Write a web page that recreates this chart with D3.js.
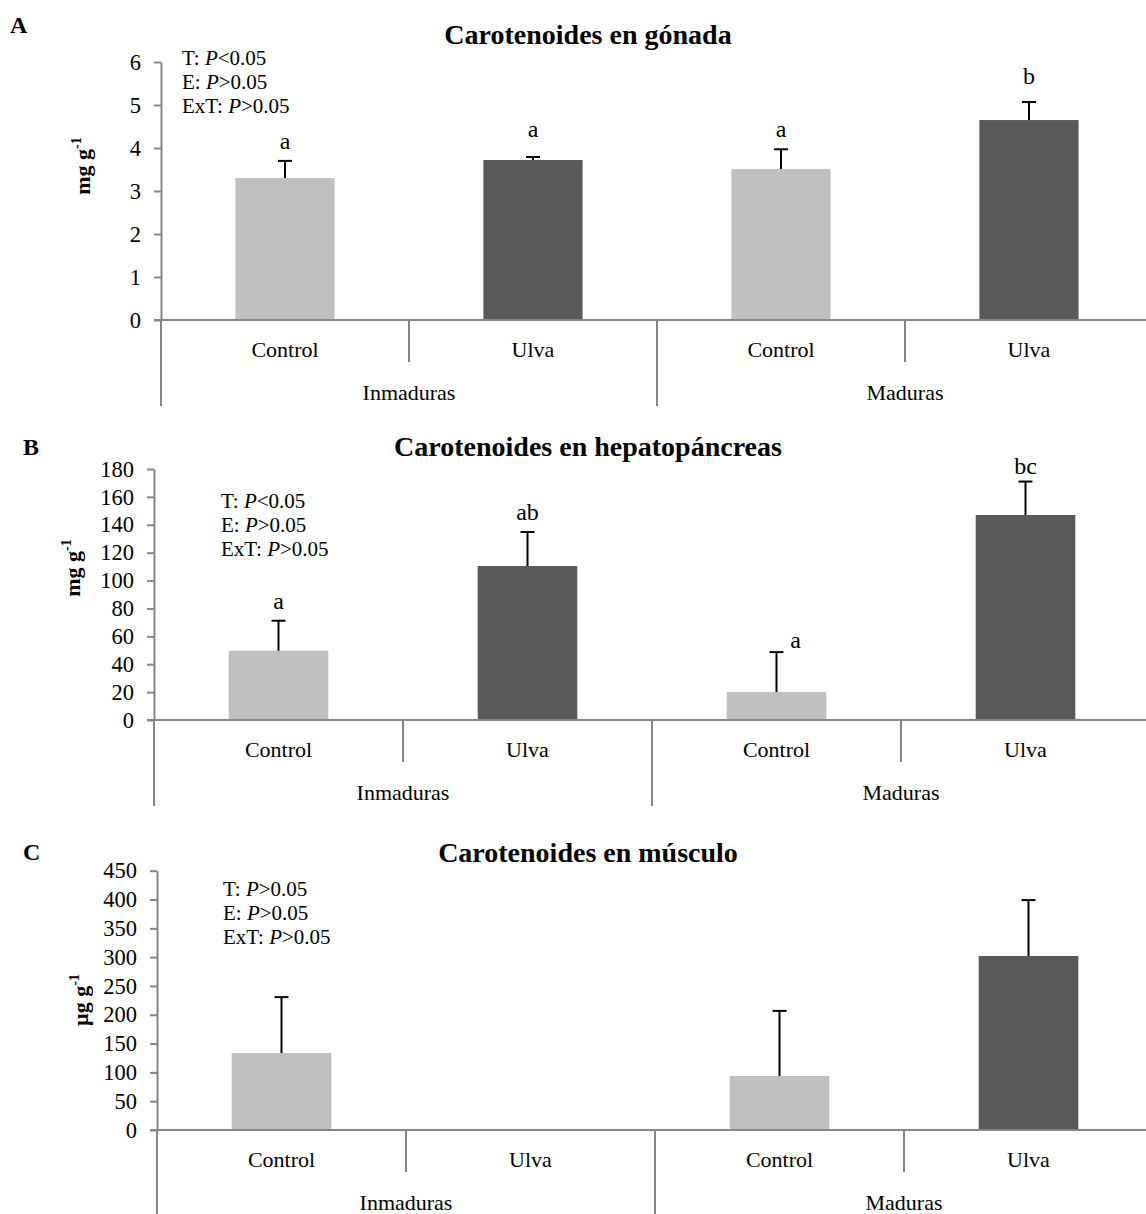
<!DOCTYPE html>
<html>
<head>
<meta charset="utf-8">
<script src="https://cdn.jsdelivr.net/npm/d3@7"></script>
<style>
  html, body { margin: 0; padding: 0; background: #fff; }
  svg { display: block; font-family: "Liberation Serif", "Times New Roman", serif; }
</style>
</head>
<body>
<svg id="chart" width="1146" height="1214"></svg>
<script>
// Maturity groups and diets (multi-level category axis)
const groups = ["Inmaduras", "Maduras"];
const diets = ["Control", "Ulva"];

// Gonad carotenoids (mg g-1): mean and upper error
const gonadMean = [3.30, 3.72, 3.51, 4.65];
const gonadErr = [0.40, 0.07, 0.46, 0.42];
const gonadLetters = ["a", "a", "a", "b"];
const gonadTicks = [0, 1, 2, 3, 4, 5, 6];
const gonadStats = [["T: ", "<0.05"], ["E: ", ">0.05"], ["ExT: ", ">0.05"]];

// Hepatopancreas carotenoids (mg g-1)
const hepatoMean = [49.7, 110.4, 20.0, 147.0];
const hepatoErr = [21.5, 24.4, 28.7, 24.0];
const hepatoLetters = ["a", "ab", "a", "bc"];
const hepatoTicks = [0, 20, 40, 60, 80, 100, 120, 140, 160, 180];
const hepatoStats = [["T: ", "<0.05"], ["E: ", ">0.05"], ["ExT: ", ">0.05"]];

// Muscle carotenoids (µg g-1)
const muscleMean = [133.6, 0, 93.7, 302.0];
const muscleErr = [97.0, 0, 113.0, 97.0];
const muscleLetters = ["", "", "", ""];
const muscleTicks = [0, 50, 100, 150, 200, 250, 300, 350, 400, 450];
const muscleStats = [["T: ", ">0.05"], ["E: ", ">0.05"], ["ExT: ", ">0.05"]];

const W = 1146;
const AXIS = "#868686";
const FILL = { Control: "#BFBFBF", Ulva: "#595959" };

// One entry per category slot: group + diet
const slots = [];
groups.forEach(g => diets.forEach(d => slots.push({ group: g, diet: d, key: g + "|" + d })));

const panels = [
  { tag: "A", title: "Carotenoides en gónada", unit: "mg g", mean: gonadMean, err: gonadErr,
    letters: gonadLetters, ticks: gonadTicks, stats: gonadStats,
    axisX: 161, step: 248, y0: 320, yTop: 62,
    tagPos: [10, 33], titleY: 44, ylab: [90, 166], statsPos: [182, 65],
    nudge: [[0, 0], [0, -8], [0, 0], [0, -6]] },
  { tag: "B", title: "Carotenoides en hepatopáncreas", unit: "mg g", mean: hepatoMean, err: hepatoErr,
    letters: hepatoLetters, ticks: hepatoTicks, stats: hepatoStats,
    axisX: 154, step: 249, y0: 720, yTop: 469,
    tagPos: [23, 455], titleY: 456, ylab: [80, 568], statsPos: [221, 508],
    nudge: [[0, 0], [0, 0], [19, 8], [0, 4]] },
  { tag: "C", title: "Carotenoides en músculo", unit: "µg g", mean: muscleMean, err: muscleErr,
    letters: muscleLetters, ticks: muscleTicks, stats: muscleStats,
    axisX: 157, step: 249, y0: 1130, yTop: 870.7,
    tagPos: [23, 860], titleY: 862, ylab: [88, 1000], statsPos: [223, 896],
    nudge: [[0, 0], [0, 0], [0, 0], [0, 0]] }
];

const svg = d3.select("#chart");

panels.forEach(p => {
  const g = svg.append("g");
  const yMax = p.ticks[p.ticks.length - 1];
  const y = d3.scaleLinear().domain([0, yMax]).range([p.y0, p.yTop]);
  const x = d3.scaleBand()
    .domain(slots.map(s => s.key))
    .range([p.axisX, p.axisX + p.step * slots.length])
    .paddingInner(0.6)
    .paddingOuter(0.3);

  // panel tag and title
  g.append("text").attr("x", p.tagPos[0]).attr("y", p.tagPos[1])
    .attr("font-size", 24).attr("font-weight", "bold").text(p.tag);
  g.append("text").attr("x", 588).attr("y", p.titleY).attr("text-anchor", "middle")
    .attr("font-size", 28).attr("font-weight", "bold").text(p.title);

  // y axis
  const yAxis = d3.axisLeft(y).tickValues(p.ticks).tickSize(7).tickSizeOuter(0)
    .tickPadding(13).tickFormat(d3.format("d"));
  const ya = g.append("g").attr("transform", `translate(${p.axisX},0)`).call(yAxis);
  ya.select(".domain").attr("stroke", AXIS).attr("stroke-width", 2);
  ya.selectAll(".tick line").attr("stroke", AXIS).attr("stroke-width", 2);
  ya.selectAll(".tick text").attr("font-size", 22.5).attr("fill", "#000")
    .attr("font-family", "Liberation Serif, Times New Roman, serif");

  // y axis title, rotated
  const yl = g.append("text")
    .attr("transform", `translate(${p.ylab[0]},${p.ylab[1]}) rotate(-90)`)
    .attr("text-anchor", "middle").attr("font-size", 22).attr("font-weight", "bold");
  yl.append("tspan").text(p.unit);
  yl.append("tspan").attr("font-size", 14).attr("dy", -9).text("-1");

  // bars
  g.selectAll("rect.bar").data(slots).join("rect").attr("class", "bar")
    .attr("x", d => x(d.key))
    .attr("width", x.bandwidth())
    .attr("y", (d, i) => y(p.mean[i]))
    .attr("height", (d, i) => p.y0 - y(p.mean[i]))
    .attr("fill", d => FILL[d.diet]);

  // upper error bars
  const cap = 7;
  slots.forEach((s, i) => {
    if (p.err[i] <= 0) return;
    const cx = x(s.key) + x.bandwidth() / 2;
    const top = y(p.mean[i] + p.err[i]);
    g.append("line").attr("x1", cx).attr("x2", cx).attr("y1", y(p.mean[i])).attr("y2", top)
      .attr("stroke", "#000").attr("stroke-width", 2);
    g.append("line").attr("x1", cx - cap).attr("x2", cx + cap).attr("y1", top).attr("y2", top)
      .attr("stroke", "#000").attr("stroke-width", 2);
  });

  // significance letters
  slots.forEach((s, i) => {
    if (!p.letters[i]) return;
    const cx = x(s.key) + x.bandwidth() / 2;
    g.append("text").attr("x", cx + p.nudge[i][0])
      .attr("y", y(p.mean[i] + p.err[i]) - 12 + p.nudge[i][1])
      .attr("text-anchor", "middle").attr("font-size", 24).text(p.letters[i]);
  });

  // horizontal category axis
  g.append("line").attr("x1", p.axisX - 7).attr("x2", W).attr("y1", p.y0).attr("y2", p.y0)
    .attr("stroke", AXIS).attr("stroke-width", 2);
  // y axis continues down through the label rows
  g.append("line").attr("x1", p.axisX).attr("x2", p.axisX).attr("y1", p.y0).attr("y2", p.y0 + 86)
    .attr("stroke", AXIS).attr("stroke-width", 2);

  // dividers between diets (short) and between groups (long)
  slots.forEach((s, i) => {
    if (i === 0) return;
    const bx = x(s.key) - x.step() * x.paddingInner() / 2;
    const long = slots[i - 1].group !== s.group;
    g.append("line").attr("x1", bx).attr("x2", bx).attr("y1", p.y0)
      .attr("y2", p.y0 + (long ? 86 : 42))
      .attr("stroke", AXIS).attr("stroke-width", 2);
  });

  // diet labels
  g.selectAll("text.diet").data(slots).join("text").attr("class", "diet")
    .attr("x", d => x(d.key) + x.bandwidth() / 2)
    .attr("y", p.y0 + 37).attr("text-anchor", "middle").attr("font-size", 22)
    .text(d => d.diet);
  // group labels
  groups.forEach(gr => {
    const ks = slots.filter(s => s.group === gr).map(s => s.key);
    const cx = (x(ks[0]) + x(ks[ks.length - 1]) + x.bandwidth()) / 2;
    g.append("text").attr("x", cx).attr("y", p.y0 + 80).attr("text-anchor", "middle")
      .attr("font-size", 22).text(gr);
  });

  // statistics block
  p.stats.forEach((st, k) => {
    const t = g.append("text").attr("x", p.statsPos[0]).attr("y", p.statsPos[1] + k * 24)
      .attr("font-size", 21);
    t.append("tspan").text(st[0]);
    t.append("tspan").attr("font-style", "italic").text("P");
    t.append("tspan").text(st[1]);
  });
});
</script>
</body>
</html>
